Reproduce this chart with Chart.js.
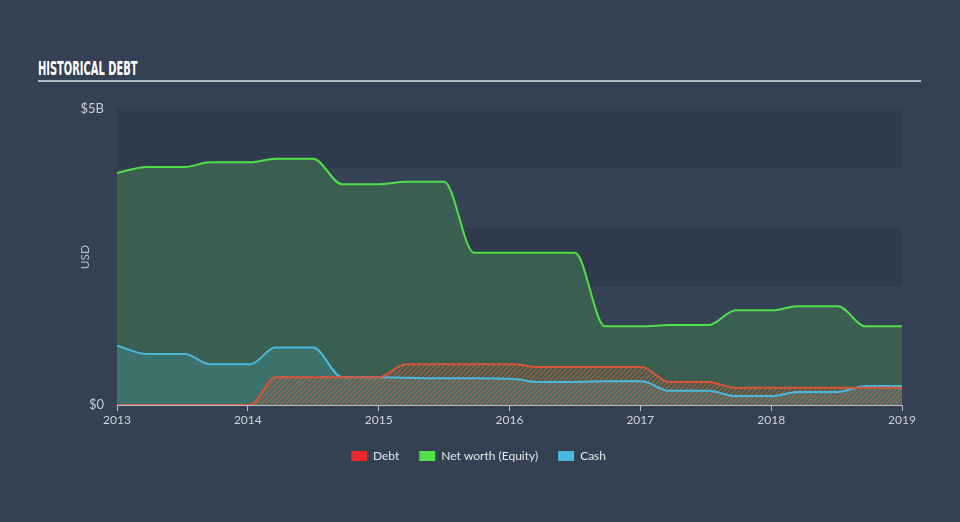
<!DOCTYPE html>
<html>
<head>
<meta charset="utf-8">
<script src="https://cdn.jsdelivr.net/npm/chart.js@4/dist/chart.umd.min.js"></script>
<style>
  html, body { margin: 0; padding: 0; }
  body { width: 960px; height: 522px; background: #344152; overflow: hidden; position: relative; font-family: Lato, "Open Sans", sans-serif; }
  #head { position: absolute; left: 38px; top: 56px; width: 883px; height: 24px; border-bottom: 2px solid #b4bac1; }
  #head span { display: inline-block; color: #fff; font: bold 20px "Liberation Sans Narrow", "DejaVu Sans Condensed", sans-serif; transform: scaleX(0.55); transform-origin: left center; }
  #wrap { position: absolute; left: 0; top: 0; width: 960px; height: 522px; }
</style>
</head>
<body>
<div id="head"><span>HISTORICAL DEBT</span></div>
<div id="wrap"><canvas id="c" width="960" height="522"></canvas></div>
<script>
// report dates (decimal years) and values in $B
const dates = [2013.0, 2013.23, 2013.52, 2013.71, 2014.02, 2014.21, 2014.5, 2014.72, 2015.0, 2015.21, 2015.5, 2015.73, 2016.04, 2016.21, 2016.5, 2016.73, 2017.01, 2017.22, 2017.52, 2017.73, 2018.01, 2018.2, 2018.51, 2018.72, 2019.0];
const netWorth = [3.92, 4.02, 4.02, 4.10, 4.10, 4.16, 4.16, 3.73, 3.73, 3.77, 3.77, 2.57, 2.57, 2.57, 2.57, 1.33, 1.33, 1.35, 1.35, 1.60, 1.60, 1.67, 1.67, 1.33, 1.33];
const cash = [1.00, 0.86, 0.86, 0.69, 0.69, 0.97, 0.97, 0.47, 0.47, 0.46, 0.45, 0.45, 0.44, 0.39, 0.39, 0.40, 0.40, 0.24, 0.24, 0.15, 0.15, 0.22, 0.22, 0.32, 0.32];
const debt = [0, 0, 0, 0, 0, 0.47, 0.47, 0.47, 0.47, 0.69, 0.69, 0.69, 0.69, 0.64, 0.64, 0.64, 0.64, 0.39, 0.39, 0.29, 0.29, 0.29, 0.29, 0.29, 0.29];
const yearTicks = [2013, 2014, 2015, 2016, 2017, 2018, 2019];
const yTicks = [0, 5];

const pts = arr => arr.map((v, i) => ({ x: dates[i], y: v }));

function hatch() {
    const c = document.createElement('canvas');
    c.width = 5; c.height = 5;
    const g = c.getContext('2d');
    g.strokeStyle = 'rgba(205,92,62,0.75)';
    g.lineWidth = 1.3;
    g.beginPath();
    g.moveTo(0, 5); g.lineTo(5, 0);
    g.moveTo(-1, 1); g.lineTo(1, -1);
    g.moveTo(4, 6); g.lineTo(6, 4);
    g.stroke();
    return g.createPattern(c, 'repeat');
}

const bands = {
    id: 'bands',
    beforeDraw(chart) {
        const { ctx, chartArea: a, scales: { y } } = chart;
        ctx.save();
        for (let i = 0; i < 5; i++) {
            const top = y.getPixelForValue(i + 1), bot = y.getPixelForValue(i);
            ctx.fillStyle = i % 2 === 0 ? '#2f3b4c' : '#354354';
            ctx.fillRect(a.left, top, a.right - a.left, bot - top);
        }
        ctx.restore();
    }
};

Chart.defaults.font.family = 'Lato, "Open Sans", sans-serif';
Chart.defaults.font.size = 12;

new Chart(document.getElementById('c'), {
    type: 'line',
    data: {
        datasets: [
            {
                label: 'Debt',
                data: pts(debt),
                borderColor: '#d9553a',
                backgroundColor: hatch(),
                fill: 'origin',
                order: 0,
            },
            {
                label: 'Net worth (Equity)',
                data: pts(netWorth),
                borderColor: '#4fe04a',
                backgroundColor: 'rgba(58,97,80,0.96)',
                fill: 'origin',
                order: 2,
            },
            {
                label: 'Cash',
                data: pts(cash),
                borderColor: '#4bb9dd',
                backgroundColor: 'rgba(75,185,220,0.2)',
                fill: 'origin',
                order: 1,
            },
        ],
    },
    options: {
        responsive: false,
        animation: false,
        maintainAspectRatio: false,
        devicePixelRatio: 1,
        layout: { padding: { top: 109, right: 3, left: 0, bottom: 50 } },
        elements: {
            point: { radius: 0 },
            line: { borderWidth: 2, cubicInterpolationMode: 'monotone' },
        },
        plugins: {
            filler: { drawTime: 'beforeDatasetsDraw' },
            tooltip: { enabled: false },
            legend: {
                position: 'bottom',
                sort: (a, b) => a.datasetIndex - b.datasetIndex,
                labels: {
                    boxWidth: 16,
                    boxHeight: 10,
                    padding: 20,
                    color: '#e2e6ea',
                    generateLabels(chart) {
                        return chart.data.datasets.map((d, i) => ({
                            text: d.label,
                            fillStyle: ['#e8282b', '#4fe04a', '#4bb9dd'][i],
                            strokeStyle: 'transparent',
                            lineWidth: 0,
                            datasetIndex: i,
                            fontColor: '#e2e6ea',
                        }));
                    },
                },
            },
        },
        scales: {
            x: {
                type: 'linear',
                min: 2013,
                max: 2019,
                afterBuildTicks: s => { s.ticks = yearTicks.map(v => ({ value: v })); },
                afterFit: s => { s.height = 25; },
                ticks: { color: '#d0d5db', padding: 2, callback: v => String(v), maxRotation: 0 },
                grid: { drawOnChartArea: false, drawTicks: true, tickLength: 6, color: '#b9c0c8' },
                border: { display: true, color: '#b9c0c8', width: 1 },
            },
            y: {
                min: 0,
                max: 5,
                afterBuildTicks: s => { s.ticks = yTicks.map(v => ({ value: v })); },
                afterFit: s => { s.width = 117; },
                ticks: { color: '#c8ced5', padding: 13, font: { size: 13 }, callback: v => v === 0 ? '$0' : '$' + v + 'B' },
                grid: { display: false, drawTicks: false },
                border: { display: false },
                title: { display: true, text: 'USD', color: '#b8bfc7', padding: { top: 78, bottom: 0 } },
            },
            // empty right-hand spacer so the legend centres like the original
            yRight: {
                position: 'right',
                min: 0,
                max: 5,
                afterFit: s => { s.width = 55; },
                ticks: { display: false },
                grid: { display: false, drawTicks: false },
                border: { display: false },
            },
        },
    },
    plugins: [bands],
});
</script>
</body>
</html>
